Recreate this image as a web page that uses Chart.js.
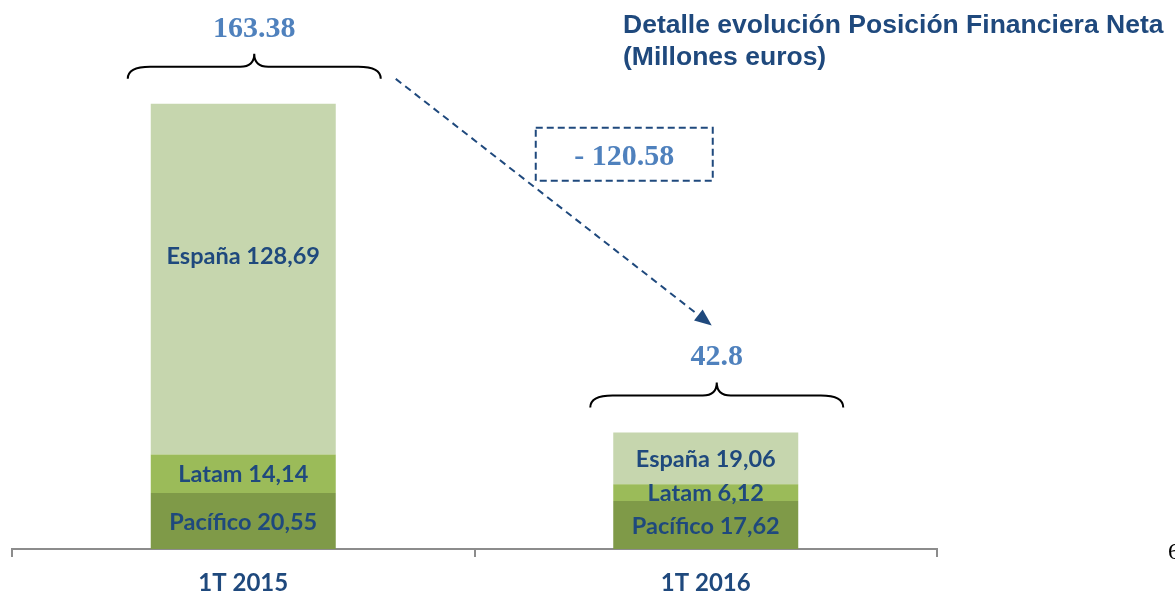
<!DOCTYPE html>
<html>
<head>
<meta charset="utf-8">
<script src="https://cdn.jsdelivr.net/npm/chart.js@4.4.1/dist/chart.umd.min.js"></script>
<style>
  html, body { margin: 0; padding: 0; background: #ffffff; }
  #wrap { width: 1175px; height: 595px; position: relative; }
</style>
</head>
<body>
<div id="wrap"><canvas id="c" width="1175" height="595"></canvas></div>
<script>
// ---- data ----
const categories = ['1T 2015', '1T 2016'];
const seriesNames = ['Pacífico', 'Latam', 'España'];
const pacifico = [20.55, 17.62];
const latam = [14.14, 6.12];
const espana = [128.69, 19.06];
const titleLines = ['Detalle evolución Posición Financiera Neta', '(Millones euros)'];
const pageNumber = '6';

// ---- styles ----
const colors = ['#7F9A48', '#9BBB59', '#C6D6AE'];
const darkBlue = '#1F497D';
const lightBlue = '#4F81BD';
const axisGray = '#8C8C8C';

const totals = categories.map((_, i) => Number((pacifico[i] + latam[i] + espana[i]).toFixed(2)));
const diff = Number((totals[1] - totals[0]).toFixed(2));

function fmtComma(v) { return v.toFixed(2).replace('.', ','); }

function brace(ctx, x0, x1, yTip, yMid, yEnd) {
  const xc = (x0 + x1) / 2;
  const r = 14;
  ctx.beginPath();
  ctx.moveTo(x0, yEnd);
  ctx.quadraticCurveTo(x0, yMid, x0 + r * 1.6, yMid);
  ctx.lineTo(xc - r, yMid);
  ctx.quadraticCurveTo(xc, yMid, xc, yTip);
  ctx.quadraticCurveTo(xc, yMid, xc + r, yMid);
  ctx.lineTo(x1 - r * 1.6, yMid);
  ctx.quadraticCurveTo(x1, yMid, x1, yEnd);
  ctx.stroke();
}

const annotations = {
  id: 'annotations',
  afterDatasetsDraw(chart) {
    const ctx = chart.ctx;
    ctx.save();
    // segment labels
    const labelOffsets = [[0, 0, -24], [0, 0, 0]];
    ctx.fillStyle = darkBlue;
    ctx.font = 'bold 23.5px Lato';
    ctx.textAlign = 'center';
    ctx.textBaseline = 'middle';
    chart.data.datasets.forEach((ds, di) => {
      const meta = chart.getDatasetMeta(di);
      meta.data.forEach((bar, i) => {
        const p = bar.getProps(['x', 'y', 'base'], true);
        const cy = (p.y + p.base) / 2 + labelOffsets[i][di];
        ctx.fillText(seriesNames[di] + ' ' + fmtComma(ds.data[i]), p.x, cy + 1);
      });
    });

    // braces + totals
    const topMeta = chart.getDatasetMeta(2);
    const braceInfo = [];
    topMeta.data.forEach((bar, i) => {
      const p = bar.getProps(['x', 'y', 'width'], true);
      const x0 = p.x - p.width / 2 - 23;
      const x1 = p.x + p.width / 2 + 45;
      const yEnd = p.y - 25;
      const yMid = yEnd - 12;
      const yTip = yMid - 13;
      ctx.strokeStyle = '#000000';
      ctx.lineWidth = 2;
      brace(ctx, x0, x1, yTip, yMid, yEnd);
      ctx.fillStyle = lightBlue;
      ctx.font = 'bold 30px "Liberation Serif"';
      ctx.textAlign = 'center';
      ctx.textBaseline = 'middle';
      ctx.fillText(String(totals[i]), (x0 + x1) / 2, yTip - 25);
      braceInfo.push({ x0, x1, xc: (x0 + x1) / 2, yTip, yEnd });
    });

    // dashed arrow
    const sx = braceInfo[0].x1 + 15, sy = braceInfo[0].yEnd;
    const ex = braceInfo[1].xc - 5, ey = braceInfo[1].yTip - 57;
    const ang = Math.atan2(ey - sy, ex - sx);
    const headLen = 17, headW = 7;
    const bx = ex - headLen * Math.cos(ang), by = ey - headLen * Math.sin(ang);
    ctx.strokeStyle = darkBlue;
    ctx.lineWidth = 2;
    ctx.setLineDash([7, 5]);
    ctx.beginPath();
    ctx.moveTo(sx, sy);
    ctx.lineTo(bx, by);
    ctx.stroke();
    ctx.setLineDash([]);
    ctx.fillStyle = darkBlue;
    ctx.beginPath();
    ctx.moveTo(ex, ey);
    ctx.lineTo(bx + headW * Math.sin(ang), by - headW * Math.cos(ang));
    ctx.lineTo(bx - headW * Math.sin(ang), by + headW * Math.cos(ang));
    ctx.closePath();
    ctx.fill();

    // dashed difference box
    const firstTop = topMeta.data[0].getProps(['y'], true).y;
    const boxR = ex + 1, boxW = 177, boxT = firstTop + 24, boxH = 53;
    ctx.setLineDash([7, 4]);
    ctx.strokeStyle = darkBlue;
    ctx.lineWidth = 2;
    ctx.strokeRect(boxR - boxW, boxT, boxW, boxH);
    ctx.setLineDash([]);
    ctx.fillStyle = lightBlue;
    ctx.font = 'bold 30px "Liberation Serif"';
    ctx.textAlign = 'center';
    ctx.textBaseline = 'middle';
    ctx.fillText('- ' + Math.abs(diff).toFixed(2), boxR - boxW / 2, boxT + boxH / 2 + 3);

    // title
    ctx.fillStyle = darkBlue;
    ctx.font = 'bold 26.5px "Liberation Sans"';
    ctx.textAlign = 'left';
    ctx.textBaseline = 'middle';
    ctx.fillText(titleLines[0], 623, 26);
    ctx.fillText(titleLines[1], 623, 58);

    // page number (cut at the edge)
    ctx.fillStyle = '#000000';
    ctx.font = '24px "Liberation Serif"';
    ctx.fillText(pageNumber, 1168, 553);
    ctx.restore();
  }
};

new Chart(document.getElementById('c'), {
  type: 'bar',
  data: {
    labels: categories,
    datasets: [
      { label: seriesNames[0], data: pacifico, backgroundColor: colors[0] },
      { label: seriesNames[1], data: latam, backgroundColor: colors[1] },
      { label: seriesNames[2], data: espana, backgroundColor: colors[2] }
    ]
  },
  options: {
    responsive: false,
    animation: false,
    devicePixelRatio: 1,
    layout: { padding: { left: 12, right: 238, top: 0, bottom: 0 } },
    datasets: { bar: { barPercentage: 0.4, categoryPercentage: 1.0, borderWidth: 0 } },
    plugins: { legend: { display: false }, tooltip: { enabled: false }, title: { display: false } },
    scales: {
      x: {
        stacked: true,
        offset: true,
        afterFit: (s) => { s.height = 46; },
        grid: { display: true, drawOnChartArea: false, drawTicks: true, tickLength: 8, color: axisGray, lineWidth: 2, offset: true },
        border: { display: true, color: axisGray, width: 2 },
        ticks: { color: darkBlue, font: { family: 'Lato', weight: 'bold', size: 24 }, padding: 12 }
      },
      y: {
        stacked: true,
        display: false,
        min: 0,
        max: 201.5
      }
    }
  },
  plugins: [annotations]
});
</script>
</body>
</html>
